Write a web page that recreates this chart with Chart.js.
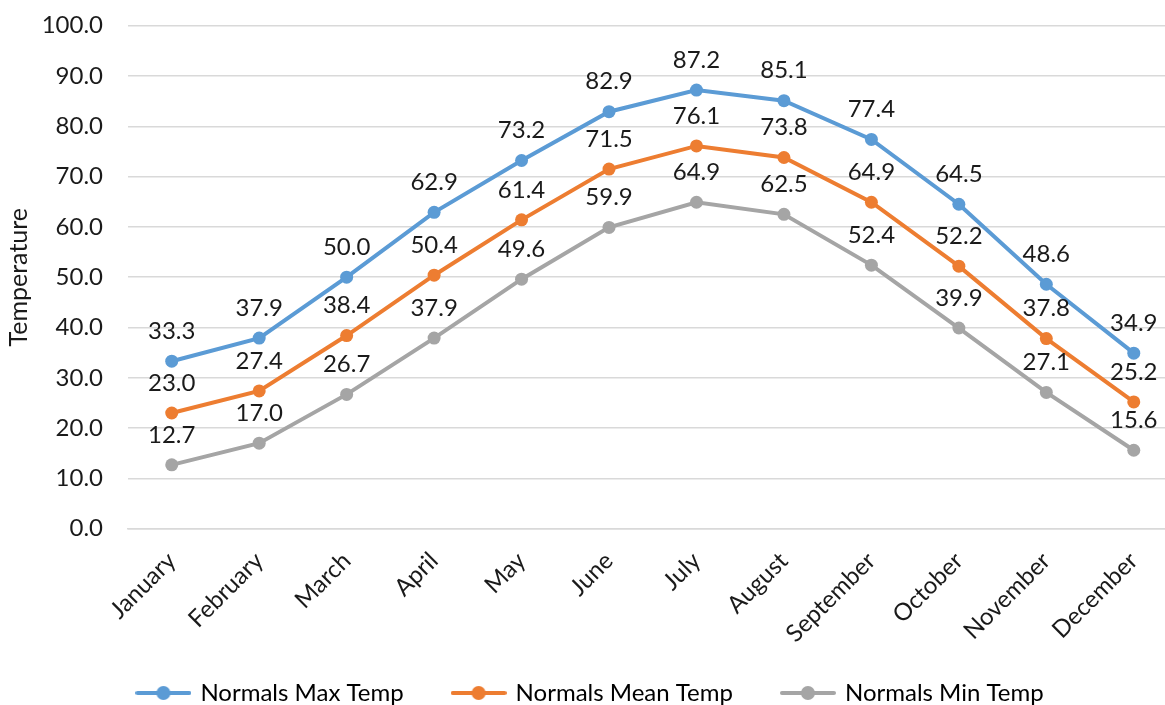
<!DOCTYPE html>
<html>
<head>
<meta charset="utf-8">
<script src="https://cdn.jsdelivr.net/npm/chart.js@4"></script>
<style>
  html, body { margin: 0; padding: 0; background: #fff; overflow: hidden; }
  #wrap { position: absolute; left: 0; top: 0; width: 1184px; height: 753px; }
</style>
</head>
<body>
<div id="wrap"><canvas id="myChart"></canvas></div>
<script>
const months = ['January', 'February', 'March', 'April', 'May', 'June', 'July',
  'August', 'September', 'October', 'November', 'December'];
const maxTemp = [33.3, 37.9, 50.0, 62.9, 73.2, 82.9, 87.2, 85.1, 77.4, 64.5, 48.6, 34.9];
const meanTemp = [23.0, 27.4, 38.4, 50.4, 61.4, 71.5, 76.1, 73.8, 64.9, 52.2, 37.8, 25.2];
const minTemp = [12.7, 17.0, 26.7, 37.9, 49.6, 59.9, 64.9, 62.5, 52.4, 39.9, 27.1, 15.6];

const FONT = 'Lato';
const TEXT = '#1a1a1a';

// legend marker: short line with a dot in the middle
function legendMarker(color) {
  const c = document.createElement('canvas');
  c.width = 56;
  c.height = 16;
  const g = c.getContext('2d');
  g.strokeStyle = color;
  g.lineWidth = 4;
  g.lineCap = 'round';
  g.beginPath();
  g.moveTo(2, 8);
  g.lineTo(54, 8);
  g.stroke();
  g.fillStyle = color;
  g.beginPath();
  g.arc(28, 8, 7, 0, Math.PI * 2);
  g.fill();
  return c;
}

// value labels above each point
const valueLabels = {
  id: 'valueLabels',
  afterDatasetsDraw(chart) {
    const c = chart.ctx;
    c.save();
    c.font = '24px ' + FONT;
    c.fillStyle = TEXT;
    c.textAlign = 'center';
    c.textBaseline = 'middle';
    chart.data.datasets.forEach((ds, i) => {
      chart.getDatasetMeta(i).data.forEach((pt, j) => {
        c.fillText(ds.data[j].toFixed(1), pt.x, pt.y - 30);
      });
    });
    c.restore();
  }
};

// big legend padding spreads the items; pull the legend back up a bit
const legendLift = {
  id: 'legendLift',
  afterLayout(chart) {
    chart.legend.top -= 38;
    chart.legend.bottom -= 38;
  }
};

const series = [
  { label: 'Normals Max Temp', data: maxTemp, color: '#5B9BD5' },
  { label: 'Normals Mean Temp', data: meanTemp, color: '#ED7D31' },
  { label: 'Normals Min Temp', data: minTemp, color: '#A5A5A5' }
];

const ctx = document.getElementById('myChart');

const chart = new Chart(ctx, {
  type: 'line',
  data: {
    labels: months,
    datasets: series.map(s => ({
      label: s.label,
      data: s.data,
      borderColor: s.color,
      backgroundColor: s.color,
      borderWidth: 4,
      pointRadius: 6.5,
      pointBorderWidth: 0,
      pointBackgroundColor: s.color,
      tension: 0
    }))
  },
  options: {
    responsive: true,
    maintainAspectRatio: false,
    animation: false,
    layout: { padding: { top: 0, left: 0, right: 2, bottom: 0 } },
    plugins: {
      tooltip: { enabled: false },
      legend: {
        position: 'bottom',
        labels: {
          usePointStyle: true,
          pointStyleWidth: 50,
          boxHeight: 16,
          padding: 50,
          color: TEXT,
          font: { family: FONT, size: 24 },
          generateLabels(chart) {
            return chart.data.datasets.map((ds, i) => ({
              text: ds.label,
              fillStyle: ds.borderColor,
              strokeStyle: ds.borderColor,
              lineWidth: 0,
              pointStyle: legendMarker(ds.borderColor),
              datasetIndex: i,
              hidden: false
            }));
          }
        }
      }
    },
    scales: {
      x: {
        offset: true,
        grid: { display: false },
        border: { display: true, color: '#D9D9D9', width: 1.5 },
        ticks: {
          color: TEXT,
          font: { family: FONT, size: 24 },
          maxRotation: 45,
          minRotation: 45,
          padding: 10
        },
        afterFit(scale) {
          scale.height = 140.3;
          scale.paddingLeft = 0;
        }
      },
      y: {
        min: 0,
        max: 100,
        border: { display: false },
        grid: { color: '#D9D9D9', lineWidth: 1.5, drawTicks: false },
        ticks: {
          stepSize: 10,
          color: TEXT,
          font: { family: FONT, size: 24 },
          padding: 25,
          callback: v => v.toFixed(1)
        },
        title: {
          display: true,
          text: 'Temperature',
          color: TEXT,
          font: { family: FONT, size: 25 },
          padding: { top: 4, bottom: 1 }
        },
        afterFit(scale) {
          scale.width = 128;
          scale.paddingTop = 25.7;
          scale.paddingBottom = 0;
        }
      }
    }
  },
  plugins: [valueLabels, legendLift]
});
</script>
</body>
</html>
